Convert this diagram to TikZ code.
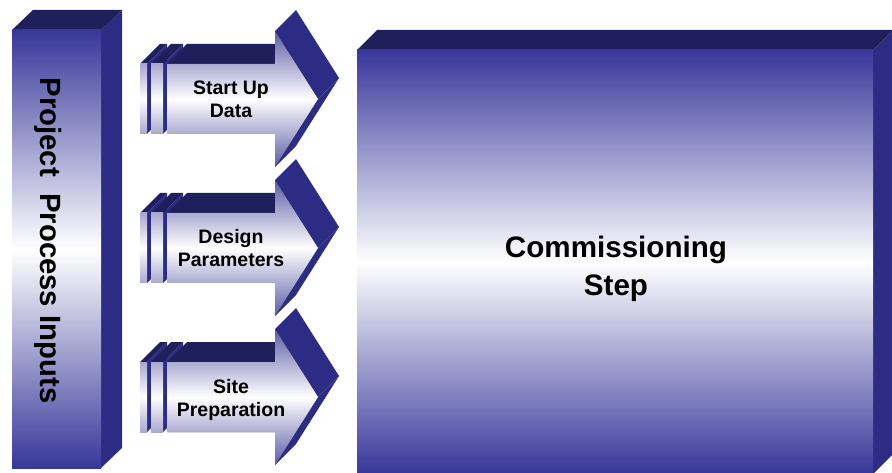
\documentclass[tikz,border=0pt]{standalone}
\usepackage{fontspec}
\setmainfont{Liberation Sans}
\definecolor{navyTop}{HTML}{1F1F5C}
\definecolor{navySide}{HTML}{2C2C84}
\definecolor{edgeBlue}{HTML}{37379A}
\definecolor{headBlue}{HTML}{5C5CA8}
\definecolor{slabBlue}{HTML}{A8A8D0}
\tikzset{
  topface/.style={fill=navyTop},
  sideface/.style={fill=navySide},
  frontbig/.style={top color=edgeBlue, bottom color=edgeBlue, middle color=white},
  arrowfront/.style={top color=headBlue, bottom color=headBlue, middle color=white},
  slabfront/.style={top color=slabBlue, bottom color=slabBlue, middle color=white},
  lbl/.style={font=\bfseries\fontsize{19.5}{23}\selectfont, inner sep=0pt, anchor=base},
  biglbl/.style={font=\bfseries\fontsize{29.6}{36}\selectfont, inner sep=0pt, anchor=base},
}
\begin{document}
\begin{tikzpicture}[x=1pt,y=-1pt]
\useasboundingbox (0,0) rectangle (892,473);
% left column
\fill[sideface] (101,30) -- (122,10) -- (122,448) -- (101,468) -- cycle;
\fill[topface] (12,30) -- (33,10) -- (122,10) -- (101,30) -- cycle;
\fill[frontbig] (12,30) rectangle (101,468);
\node[font=\bfseries\fontsize{29.3}{34}\selectfont, rotate=-90, anchor=base, inner sep=0pt]
  (inputs) at (40,240.5) {Project\ \ Process Inputs};
% big box
\fill[sideface] (873,50) -- (893,30) -- (893,454) -- (873,474) -- cycle;
\fill[topface] (357,50) -- (377,30) -- (893,30) -- (873,50) -- cycle;
\fill[frontbig] (357,50) rectangle (873,474);
\node[biglbl] (comm1) at (616,258) {Commissioning};
\node[biglbl] (comm2) at (616,295) {Step};
% arrows
\foreach \cy/\la/\lb/\n in {99/Start Up/Data/1, 248/Design/Parameters/2, 397/Site/Preparation/3}{
  % slab 1
  \fill[sideface] (147,\cy-35) -- (167,\cy-55) -- (167,\cy+15) -- (147,\cy+35) -- cycle;
  \fill[topface] (140,\cy-35) -- (160,\cy-55) -- (167,\cy-55) -- (147,\cy-35) -- cycle;
  \fill[slabfront] (140,\cy-35) rectangle (147,\cy+35);
  % slab 2
  \fill[sideface] (163,\cy-35) -- (183,\cy-55) -- (183,\cy+15) -- (163,\cy+35) -- cycle;
  \fill[topface] (151,\cy-35) -- (171,\cy-55) -- (183,\cy-55) -- (163,\cy-35) -- cycle;
  \fill[slabfront] (151,\cy-35) rectangle (163,\cy+35);
  % body top
  \fill[topface] (167,\cy-35) -- (187,\cy-55) -- (296,\cy-55) -- (275,\cy-35) -- cycle;
  % head faces
  \fill[sideface] (275,\cy-68) -- (296,\cy-89) -- (339,\cy-21) -- (318,\cy) -- cycle;
  \fill[sideface] (318,\cy) -- (339,\cy-21) -- (296,\cy+47) -- (275,\cy+68) -- cycle;
  % front
  \fill[arrowfront] (167,\cy-35) -- (275,\cy-35) -- (275,\cy-68) -- (318,\cy)
     -- (275,\cy+68) -- (275,\cy+35) -- (167,\cy+35) -- cycle;
  \node[lbl] (lab\n-a) at (231,\cy-4) {\la};
  \node[lbl] (lab\n-b) at (231,\cy+19) {\lb};
}
\end{tikzpicture}
\end{document}
